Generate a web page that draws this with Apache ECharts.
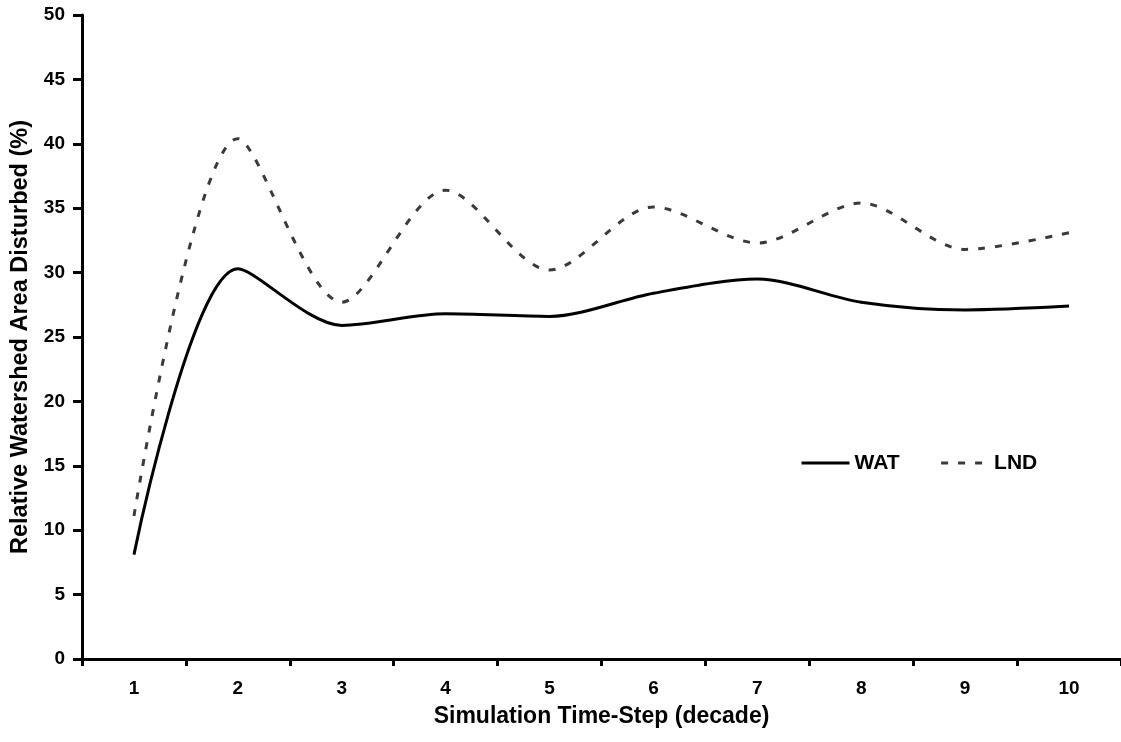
<!DOCTYPE html>
<html>
<head>
<meta charset="utf-8">
<script src="https://cdn.jsdelivr.net/npm/echarts@6/dist/echarts.min.js"></script>
<style>
html,body{margin:0;padding:0;background:#fff;}
#chart{width:1121px;height:742px;}
</style>
</head>
<body>
<div id="chart"></div>
<script>
const categories = ['1','2','3','4','5','6','7','8','9','10'];
const watValues = [8.1, 30.3, 25.9, 26.8, 26.6, 28.4, 29.5, 27.7, 27.1, 27.4];
const lndValues = [11.1, 40.4, 27.7, 36.4, 30.2, 35.1, 32.3, 35.4, 31.8, 33.1];
const yTicks = {min: 0, max: 50, interval: 5};

const FONT = '"Liberation Sans", Arial, sans-serif';
const chart = echarts.init(document.getElementById('chart'), null, {renderer: 'canvas'});
chart.setOption({
  animation: false,
  backgroundColor: '#ffffff',
  grid: {left: 82, top: 15, width: 1043, height: 644, containLabel: false},
  legend: {
    left: 795, top: 447,
    itemWidth: 48, itemHeight: 14, itemGap: 40,
    itemStyle: {opacity: 0},
    lineStyle: {width: 3},
    textStyle: {fontFamily: FONT, fontWeight: 'bold', fontSize: 21, color: '#000', lineHeight: 22},
    data: ['WAT', 'LND']
  },
  xAxis: {
    type: 'category',
    data: categories,
    boundaryGap: true,
    name: 'Simulation Time-Step (decade)',
    nameLocation: 'middle',
    nameGap: 46,
    nameTextStyle: {fontFamily: FONT, fontWeight: 'bold', fontSize: 23, color: '#000'},
    axisLine: {show: true, lineStyle: {color: '#000', width: 3}},
    axisTick: {show: true, alignWithLabel: false, length: 7, lineStyle: {color: '#000', width: 3}},
    axisLabel: {fontFamily: FONT, fontWeight: 'bold', fontSize: 19, color: '#000', margin: 20},
    splitLine: {show: false}
  },
  yAxis: {
    type: 'value',
    min: yTicks.min, max: yTicks.max, interval: yTicks.interval,
    name: 'Relative Watershed Area Disturbed (%)',
    nameLocation: 'middle',
    nameGap: 48,
    nameTextStyle: {fontFamily: FONT, fontWeight: 'bold', fontSize: 23.5, color: '#000'},
    axisLine: {show: true, lineStyle: {color: '#000', width: 3}},
    axisTick: {show: true, length: 9, lineStyle: {color: '#000', width: 3}},
    axisLabel: {fontFamily: FONT, fontWeight: 'bold', fontSize: 19, color: '#000', margin: 17},
    splitLine: {show: false}
  },
  series: [
    {
      name: 'WAT', type: 'line', data: watValues,
      smooth: 0.3, symbol: 'none', showSymbol: false,
      lineStyle: {color: '#000', width: 3},
      itemStyle: {color: '#000'}
    },
    {
      name: 'LND', type: 'line', data: lndValues,
      smooth: 0.3, symbol: 'none', showSymbol: false,
      lineStyle: {color: '#3a3a3a', width: 3, type: [7, 10], cap: 'butt'},
      itemStyle: {color: '#3a3a3a'}
    }
  ]
});
</script>
</body>
</html>
